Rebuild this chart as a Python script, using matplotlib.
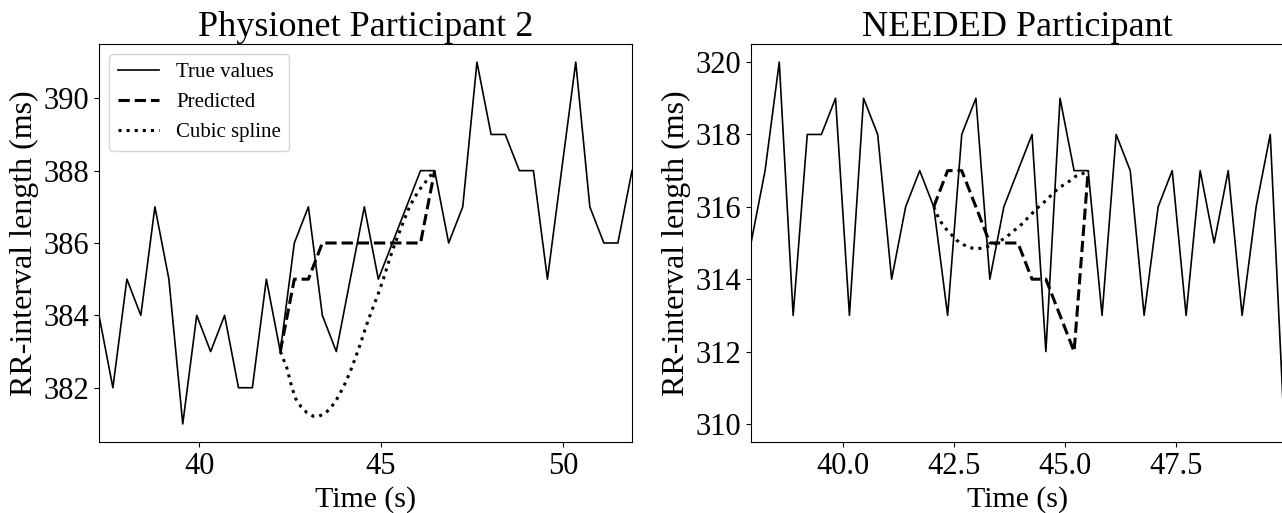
import matplotlib
matplotlib.use('Agg')
import matplotlib.pyplot as plt
import numpy as np

plt.rcParams['font.family'] = 'serif'
plt.rcParams['font.serif'] = ['Liberation Serif', 'DejaVu Serif']

# Physionet participant 2: RR intervals (ms), start time of the window (s)
phys_rr = [384, 382, 385, 384, 387, 385, 381, 384, 383, 384, 382, 382, 385,
           383, 386, 387, 384, 383, 385, 387, 385, 386, 387, 388, 388, 386,
           387, 391, 389, 389, 388, 388, 385, 388, 391, 387, 386, 386, 388]
phys_t0 = 37.24
phys_pred = [383, 385, 385, 386, 386, 386, 386, 386, 386, 386, 386, 388]
phys_spline_t = [42.23, 42.41, 42.54, 42.65, 42.80, 42.96, 43.14, 43.28,
                 43.46, 43.60, 43.74, 43.87, 44.01, 44.15, 44.29, 44.42,
                 44.54, 44.65, 44.79, 44.93, 45.07, 45.20, 45.34, 45.48,
                 45.62, 45.75, 45.89, 46.03, 46.21, 46.35, 46.47]
phys_spline = [383.0, 382.54, 382.03, 381.70, 381.47, 381.31, 381.21, 381.21,
               381.29, 381.43, 381.61, 381.84, 382.12, 382.44, 382.82, 383.18,
               383.55, 383.88, 384.25, 384.62, 385.03, 385.45, 385.87, 386.24,
               386.60, 386.93, 387.20, 387.44, 387.67, 387.85, 388.0]

# NEEDED participant
need_rr = [315, 317, 320, 313, 318, 318, 319, 313, 319, 318, 314, 316, 317,
           316, 313, 318, 319, 314, 316, 317, 318, 312, 319, 317, 317, 313,
           318, 317, 313, 316, 317, 313, 317, 315, 317, 313, 316, 318, 310]
need_t0 = 37.92
need_pred = [316, 317, 317, 316, 315, 315, 315, 314, 314, 313, 312, 317]
need_spline_t = [42.04, 42.16, 42.29, 42.43, 42.55, 42.70, 42.85, 43.01,
                 43.18, 43.38, 43.53, 43.68, 43.83, 43.98, 44.09, 44.21,
                 44.34, 44.47, 44.60, 44.72, 44.84, 44.98, 45.11, 45.23,
                 45.37, 45.52]
need_spline = [316.0, 315.65, 315.42, 315.24, 315.08, 314.96, 314.87, 314.84,
               314.87, 314.96, 315.05, 315.17, 315.33, 315.47, 315.61, 315.76,
               315.93, 316.07, 316.21, 316.37, 316.50, 316.62, 316.72, 316.84,
               316.90, 317.0]

gap_start, gap_end = 13, 25

fig = plt.figure(figsize=(12.82, 5.13), dpi=100)
ax1 = fig.add_axes([99 / 1282, 71 / 513, 533 / 1282, 398 / 513])
ax2 = fig.add_axes([751 / 1282, 71 / 513, 533 / 1282, 398 / 513])


def draw(ax, rr, t0, pred, spl_t, spl, title):
    rr = np.array(rr)
    # beat times from the running sum of RR intervals
    t = t0 + np.concatenate([[0], np.cumsum(rr[1:]) / 1000])
    ax.plot(t, rr, color='black', lw=1.2, label='True values')
    ax.plot(t[gap_start:gap_end], pred, color='black', lw=2.2, ls='--',
            label='Predicted')
    ax.plot(spl_t, spl, color='black', lw=2.2, ls=':', label='Cubic spline')
    ax.set_xlim(t[0], t[-1])
    ax.set_title(title, fontsize=26)
    ax.set_xlabel('Time (s)', fontsize=21.5)
    ax.set_ylabel('RR-interval length (ms)', fontsize=23, labelpad=3)
    ax.tick_params(labelsize=22)


draw(ax1, phys_rr, phys_t0, phys_pred, phys_spline_t, phys_spline,
     'Physionet Participant 2')
draw(ax2, need_rr, need_t0, need_pred, need_spline_t, need_spline,
     'NEEDED Participant')

ax1.set_xticks([40, 45, 50])
ax2.set_xticks([40.0, 42.5, 45.0, 47.5])

ax1.legend(loc='upper left', fontsize=15)

plt.savefig('out.png', dpi=100)
